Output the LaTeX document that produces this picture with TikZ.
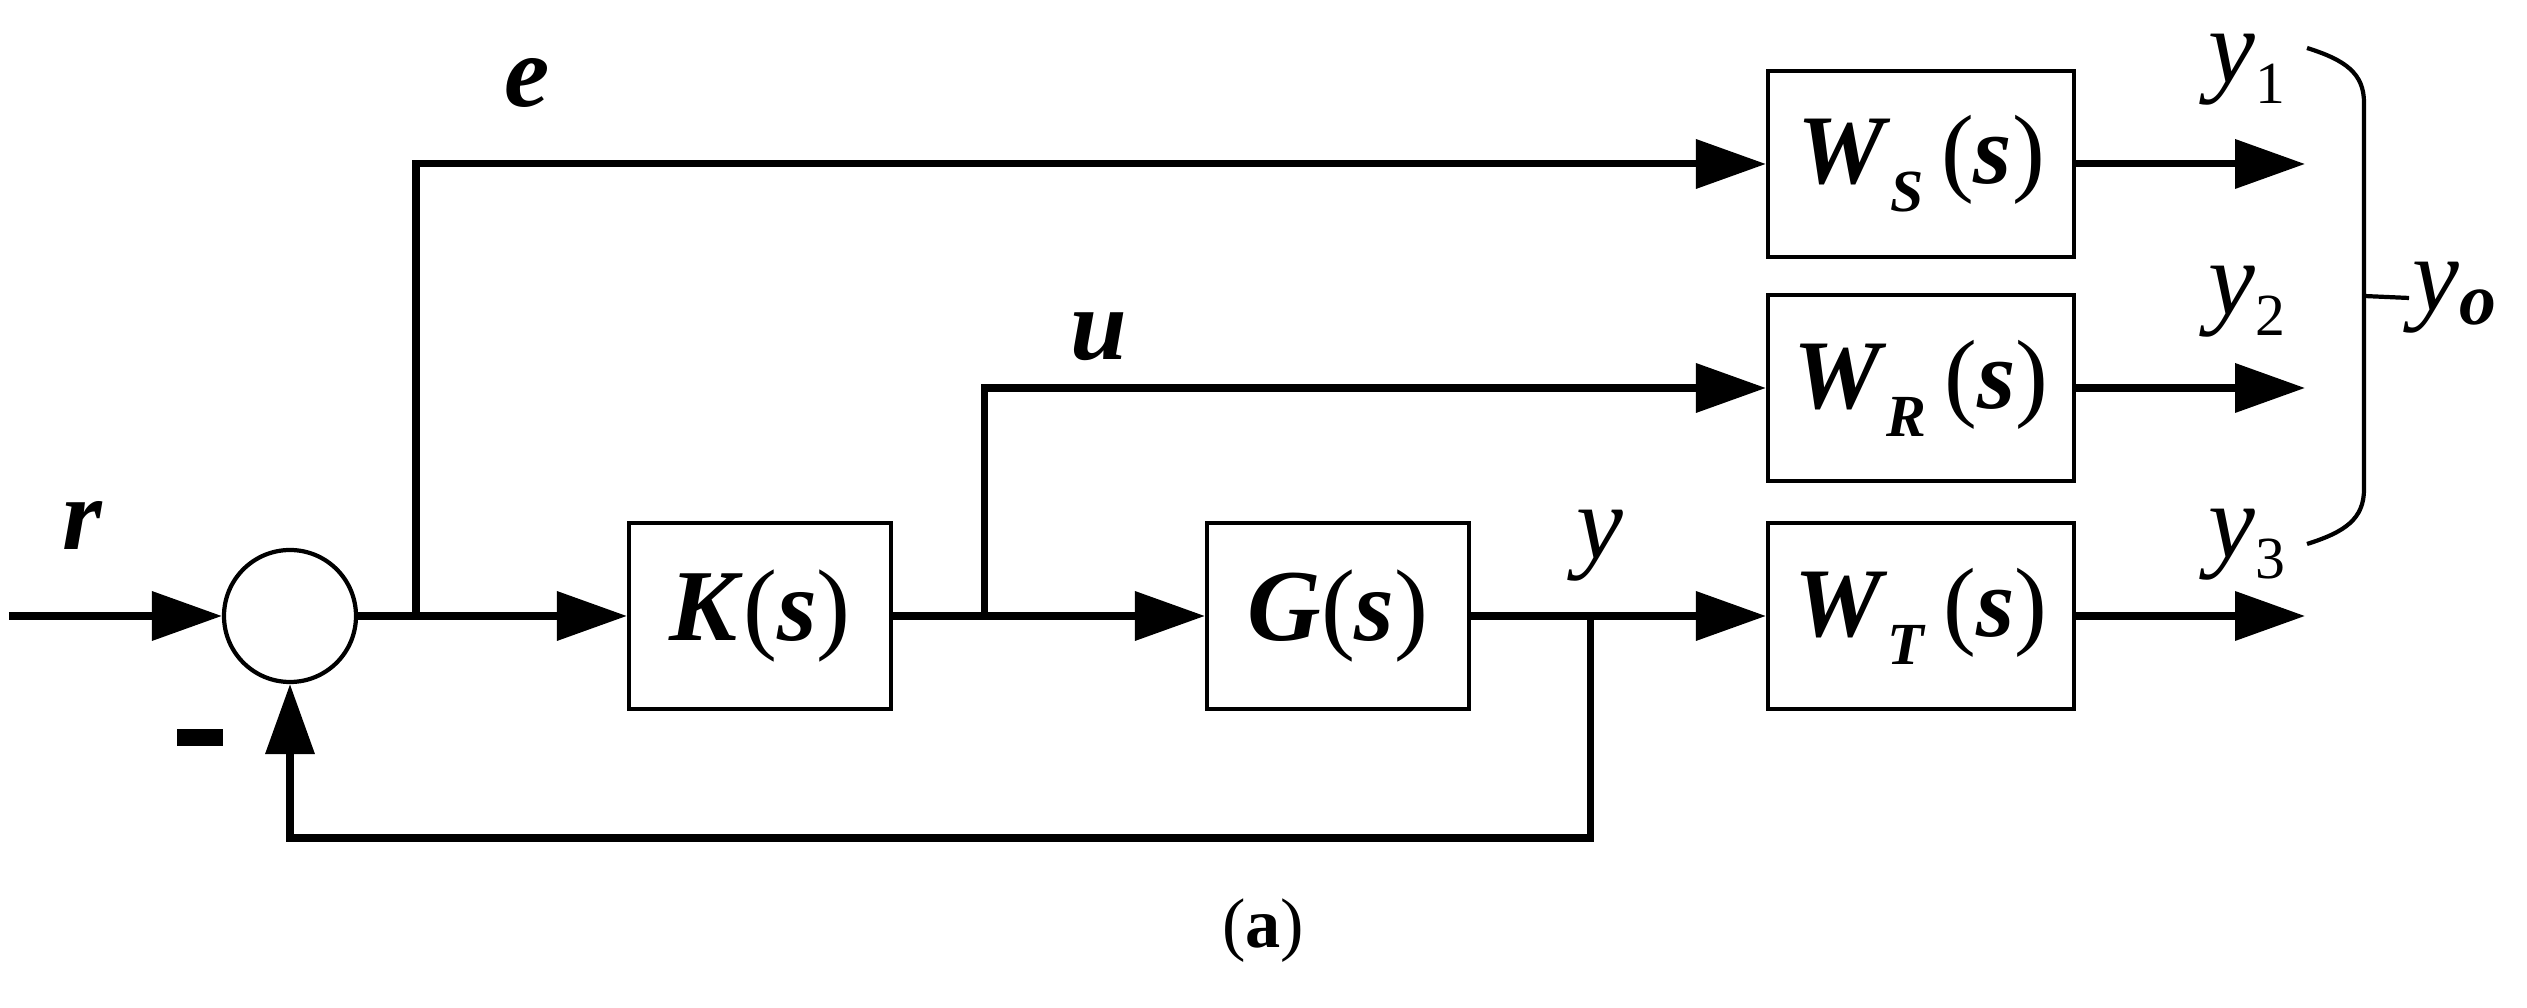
\documentclass[tikz,border=0pt]{standalone}
\usepackage{fontspec}
\setmainfont{Liberation Serif}
\usetikzlibrary{arrows.meta}
\newcommand{\bi}[1]{\textbf{\textit{#1}}}
\newcommand{\wfn}[1]{\bi{W}\raisebox{-8pt}{\fontsize{17}{17}\selectfont\bi{#1}}\hspace{0.18em}(\bi{s})}
\newcommand{\yout}[1]{\textit{y}\raisebox{-6pt}{\fontsize{17}{17}\selectfont #1}}
\tikzset{
  blk/.style = {draw=black, line width=1.2pt, inner sep=0pt,
    minimum width=2.62cm, minimum height=1.86cm,
    font=\fontsize{29}{34}\selectfont},% bloc K, G
  blk_w/.style = {blk, minimum width=3.06cm,
    font=\fontsize{28}{34}\selectfont},% bloc de ponderation
  sum_n/.style = {draw=black, circle, line width=1.2pt, inner sep=0pt,
    minimum size=1.32cm},% comparateur
  sig/.style = {inner sep=0pt, font=\fontsize{29}{34}\selectfont},% signal
  sig_y/.style = {inner sep=0pt, font=\fontsize{30}{34}\selectfont}% sortie
}
\begin{document}
\begin{tikzpicture}[>={Triangle[length=0.7cm,width=0.48cm]}, line width=2pt]
\useasboundingbox (0,0) rectangle (25.27,10.08);
\node [sum_n] (sum) at (2.90,3.92) {};
\node [blk] (K) at (7.60,3.92) {\bi{K}(\bi{s})};
\node [blk] (G) at (13.38,3.92) {\bi{G}(\bi{s})};
\node [blk_w] (WS) at (19.21,8.44) {\wfn{S}};
\node [blk_w] (WR) at (19.21,6.20) {\wfn{R}};
\node [blk_w] (WT) at (19.21,3.92) {\wfn{T}};
% points de branchement
\coordinate (in) at (0.09,3.92);
\coordinate (be) at (4.16,3.92);
\coordinate (bu) at (9.84,3.92);
\coordinate (by) at (15.90,3.92);
\coordinate (fb) at (15.90,1.70);
\coordinate (o1) at (23.05,8.44);
\coordinate (o2) at (23.05,6.20);
\coordinate (o3) at (23.05,3.92);
% boucle
\draw[->] (in) -- (sum);
\draw[->] (sum) -- (K);
\draw[->] (K) -- (G);
\draw[->] (G) -- (WT);
\draw[->] (be) |- (WS);
\draw[->] (bu) |- (WR);
\draw[->] (by) -- (fb) -| (sum);
\draw[->] (WS) -- (o1);
\draw[->] (WR) -- (o2);
\draw[->] (WT) -- (o3);
% etiquettes
\node [sig] (r) at (0.83,4.83) {\bi{r}};
\node [sig] (e) at (5.27,9.25) {\bi{e}};
\node [sig] (u) at (10.99,6.71) {\bi{u}};
\node [sig_y] (y) at (16.00,4.62) {\textit{y}};
\node [inner sep=0pt] (minus) at (2.00,2.70) {\rule{0.46cm}{0.17cm}};
\node [sig_y] (y1) at (22.47,9.38) {\yout{1}};
\node [sig_y] (y2) at (22.47,7.06) {\yout{2}};
\node [sig_y] (y3) at (22.47,4.63) {\yout{3}};
% accolade
\coordinate (bt) at (23.07,9.60);
\coordinate (bb) at (23.07,4.64);
\coordinate (bm) at (23.64,7.12);
\node [sig_y, anchor=west] (yo) at (24.09,7.10)
  {\textit{y}\raisebox{-4pt}{\fontsize{21}{21}\selectfont\bi{o}}};
\draw[line width=1.2pt] (bt) .. controls (23.45,9.48) and (23.64,9.35) .. (23.64,9.05)
  -- (23.64,5.19) .. controls (23.64,4.89) and (23.45,4.76) .. (bb);
\draw[line width=1.2pt] (bm) -- (yo.west);
\node [inner sep=0pt, font=\fontsize{20}{24}\selectfont] (cap) at (12.63,0.77) {(\textbf{a})};
\end{tikzpicture}
\end{document}
